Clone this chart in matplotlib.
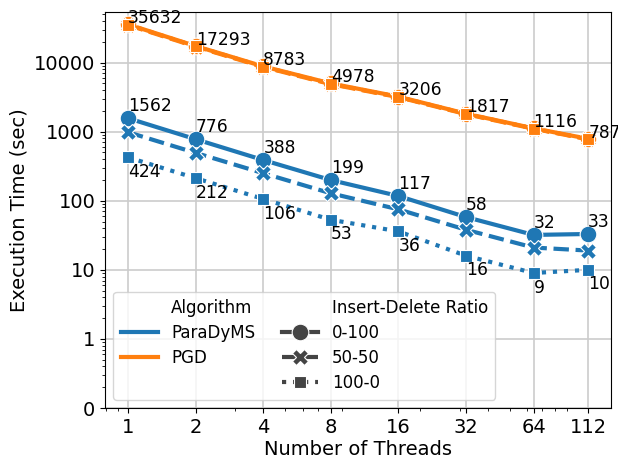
import matplotlib
matplotlib.use("Agg")
import matplotlib.pyplot as plt
from matplotlib.lines import Line2D
from matplotlib.ticker import FixedLocator, FuncFormatter

# data
threads = [1, 2, 4, 8, 16, 32, 64, 112]
ratios = ["0-100", "50-50", "100-0"]

paradyms_0_100 = [1562, 776, 388, 199, 117, 58, 32, 33]
paradyms_50_50 = [980, 492, 250, 128, 75, 38, 21, 19]
paradyms_100_0 = [424, 212, 106, 53, 36, 16, 9, 10]

pgd_0_100 = [35632, 17293, 8783, 4978, 3206, 1817, 1116, 787]
pgd_50_50 = [34900, 16950, 8620, 4860, 3150, 1790, 1100, 775]
pgd_100_0 = [35300, 17150, 8700, 4920, 3180, 1805, 1108, 780]

blue = "#1f77b4"
orange = "#ff7f0e"
styles = {"0-100": ("-", "o", 12), "50-50": ((0, (3.7, 1.6)), "X", 11), "100-0": ((0, (1, 1.65)), "s", 8)}

fig = plt.figure(figsize=(6.18, 4.59), dpi=100)
ax = fig.add_axes([0.17, 0.111, 0.819, 0.863])

series = [
    (blue, "0-100", paradyms_0_100),
    (blue, "50-50", paradyms_50_50),
    (blue, "100-0", paradyms_100_0),
    (orange, "0-100", pgd_0_100),
    (orange, "50-50", pgd_50_50),
    (orange, "100-0", pgd_100_0),
]
for color, r, vals in series:
    ls, mk, ms = styles[r]
    ax.plot(threads, vals, color=color, linestyle=ls, linewidth=3, marker=mk,
            markersize=ms, markeredgecolor="white", markeredgewidth=0.8, zorder=3)

# value labels
for x, v in zip(threads, paradyms_0_100):
    ax.annotate(str(v), (x, v), xytext=(0, 2), textcoords="offset points",
                ha="left", va="bottom", fontsize=12.3)
for x, v in zip(threads, paradyms_100_0):
    ax.annotate(str(v), (x, v), xytext=(0, -4), textcoords="offset points",
                ha="left", va="top", fontsize=12.3)
for x, v in zip(threads, pgd_0_100):
    ax.annotate(str(v), (x, v), xytext=(0, -2), textcoords="offset points",
                ha="left", va="bottom", fontsize=12.3)

ax.set_xscale("log")
ax.set_yscale("log")
ax.set_ylim(bottom=0.1)
ax.xaxis.set_major_locator(FixedLocator(threads))
ax.xaxis.set_major_formatter(FuncFormatter(lambda v, p: "%d" % v))
ax.yaxis.set_major_locator(FixedLocator([0.1, 1, 10, 100, 1000, 10000]))
ax.yaxis.set_major_formatter(FuncFormatter(lambda v, p: "%d" % v))
ax.tick_params(axis="both", labelsize=14)
ax.grid(True, which="major", color="#cccccc", linewidth=1.2)
ax.set_axisbelow(True)
ax.set_xlabel("Number of Threads", fontsize=14, labelpad=2)
ax.set_ylabel("Execution Time (sec)", fontsize=14)

# seaborn-like legend with two sub-titles
blank = Line2D([], [], linestyle="none")
gray = "#444444"
handles = [
    blank,
    Line2D([], [], color=blue, linewidth=3),
    Line2D([], [], color=orange, linewidth=3),
    blank,
    blank,
]
labels = ["Algorithm", "ParaDyMS", "PGD", "", "Insert-Delete Ratio"]
for r in ratios:
    ls, mk, ms = styles[r]
    handles.append(Line2D([], [], color=gray, linestyle=ls, linewidth=3, marker=mk,
                          markersize=ms, markeredgecolor="white", markeredgewidth=0.8))
labels += ratios
leg = ax.legend(handles, labels, ncol=2, loc="lower left", fontsize=12,
                handlelength=2.2, handletextpad=0.8, columnspacing=1.6,
                labelspacing=0.42, borderpad=0.45)

fig.savefig("out.png", dpi=100)
